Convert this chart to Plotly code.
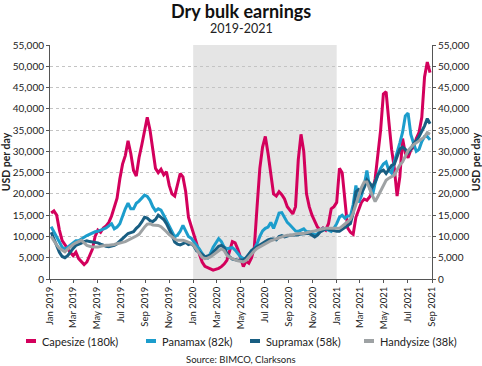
import pandas as pd
import plotly.graph_objects as go

# ---------------- data (weekly, USD per day) ----------------
start_date = "2019-01-04"
n_weeks = 139

capesize = [
    15500, 16000, 15000, 11500, 9000, 8000, 7000, 6200, 5500, 6300,
    4800, 4200, 3400, 4000, 5500, 7000, 10000, 11500, 11000, 12000,
    12500, 13300, 14800, 16800, 19000, 23500, 27000, 29000, 32500, 29500,
    25500, 24200, 28500, 31500, 35000, 38000, 35000, 31000, 26000, 25000,
    25800, 24500, 25200, 22000, 20000, 19500, 22500, 24800, 24000, 20500,
    14500, 12500, 10000, 8300, 5800, 4000, 3000, 2600, 2400, 2100,
    2300, 2500, 2900, 3500, 4400, 6500, 8800, 8500, 7000, 5000,
    2900, 4200, 3700, 5000, 7500, 17000, 26000, 31000, 33500, 29500,
    24000, 20000, 19500, 20500, 19800, 18800, 17000, 16000, 15300, 17000,
    28000, 34000, 30000, 20000, 17000, 15000, 13500, 12200, 11500, 12000,
    11500, 13000, 16500, 17000, 18000, 26000, 25000, 18000, 12000, 11000,
    10500, 14500, 16500, 18000, 18800, 18500, 19300, 20500, 23500, 29000,
    35000, 43500, 44000, 37000, 30500, 26000, 19500, 24000, 33000, 29500,
    28500, 30300, 31000, 33000, 34500, 38000, 47500, 51000, 48500,
]
panamax = [
    12300, 11000, 9800, 8700, 7500, 7000, 7500, 8000, 8500, 9000,
    9000, 9500, 9800, 10200, 10500, 10800, 11100, 11200, 11500, 11800,
    12000, 12500, 13000, 11800, 12200, 13000, 15000, 16500, 17800, 16500,
    16500, 17800, 18300, 19000, 19700, 19400, 18500, 17000, 16000, 16500,
    16200, 15000, 13800, 12500, 11200, 9900, 10300, 11200, 12600, 11300,
    10000, 9600, 8800, 7900, 7000, 6000, 5200, 4900, 6000, 7500,
    8600, 9500, 8800, 7500, 7100, 7300, 7400, 6800, 6100, 5200,
    4800, 4900, 5700, 6700, 7100, 8300, 10000, 11300, 11900, 12200,
    13300, 11900, 13600, 15500, 15600, 14300, 13300, 12700, 12000, 11300,
    11200, 11600, 11800, 11100, 11100, 10800, 10300, 10600, 11300, 11900,
    11800, 11400, 11200, 11900, 13000, 14500, 15000, 14300, 14800, 14800,
    17500, 22000, 18000, 19500, 22000, 25500, 21500, 19500, 22500, 24500,
    26000, 27000, 27500, 25500, 24900, 27500, 29500, 32000, 34500, 38300,
    39000, 34000, 31900, 30000, 30500, 32300, 33500, 33500, 32700,
]
supramax = [
    11000, 9300, 7800, 6300, 5300, 5000, 5500, 6400, 7200, 7900,
    8100, 8400, 8800, 9000, 8800, 8700, 8600, 8500, 8200, 7900,
    7700, 7600, 7700, 7900, 8300, 8900, 9400, 10000, 10700, 10900,
    11100, 11900, 12500, 13400, 14500, 14300, 13700, 13500, 14000, 15000,
    14600, 14000, 13000, 11800, 10300, 8700, 8200, 8000, 8400, 8600,
    8100, 8300, 7700, 6600, 6300, 5800, 5200, 5400, 5600, 6300,
    7000, 7700, 7900, 7400, 6000, 5200, 4700, 4500, 4400, 4400,
    4500, 5000, 5800, 6700, 7200, 7600, 8000, 8500, 8900, 9200,
    9400, 9400, 9200, 10000, 10200, 9900, 10100, 10300, 10300, 10300,
    10400, 10600, 10700, 10700, 10700, 10300, 9900, 10300, 11100, 11400,
    11800, 11700, 11500, 11300, 11200, 11200, 11700, 12100, 12500, 13000,
    15500, 20500, 21000, 20300, 21500, 23300, 22600, 21700, 22800, 24500,
    25300, 25600, 24800, 25800, 26700, 27000, 28800, 30500, 31000, 30500,
    29700, 30500, 31800, 32500, 33500, 34700, 36000, 37700, 36500,
]
handysize = [
    10000, 8900, 8000, 7200, 6700, 6400, 7000, 7600, 8100, 8500,
    8800, 9100, 8500, 7900, 7700, 7500, 7500, 7500, 7700, 7900,
    7950, 7950, 7950, 8100, 8300, 8400, 8600, 8800, 9100, 9400,
    9700, 10100, 10500, 11400, 12200, 12900, 13000, 12700, 12600, 12600,
    12300, 11800, 11100, 10400, 9800, 9400, 9100, 9100, 9100, 8900,
    8700, 8400, 7800, 6800, 5800, 5100, 4800, 4900, 5200, 5700,
    6200, 6800, 7100, 6700, 5600, 5100, 4700, 4500, 4300, 4100,
    4000, 4400, 5200, 5900, 6600, 7200, 7600, 8000, 8400, 8800,
    9000, 9200, 9500, 9700, 9900, 10100, 10300, 10300, 10300, 10600,
    10700, 10700, 10700, 10900, 11000, 11200, 11300, 11500, 11600, 11800,
    11900, 11900, 11900, 11900, 11900, 11900, 12400, 12900, 13300, 14000,
    15500, 17500, 19500, 21500, 22800, 22800, 21200, 19800, 18200, 19400,
    20800, 22000, 23200, 23700, 24000, 24400, 25600, 26800, 27500, 28800,
    30200, 30900, 31600, 32000, 32400, 33000, 33400, 34400, 34000,
]

series_names = ["Capesize (180k)", "Panamax (82k)", "Supramax (58k)", "Handysize (38k)"]
series_values = [capesize, panamax, supramax, handysize]
series_colors = ["#d3005c", "#1c9dcc", "#185e82", "#9ea2a4"]

tick_vals = ["2019-01-01", "2019-03-01", "2019-05-01", "2019-07-01", "2019-09-01",
             "2019-11-01", "2020-01-01", "2020-03-01", "2020-05-01", "2020-07-01",
             "2020-09-01", "2020-11-01", "2021-01-01", "2021-03-01", "2021-05-01",
             "2021-07-01", "2021-09-01"]
tick_text = ["Jan 2019", "Mar 2019", "May 2019", "Jul 2019", "Sep 2019", "Nov 2019",
             "Jan 2020", "Mar 2020", "May 2020", "Jul 2020", "Sep 2020", "Nov 2020",
             "Jan 2021", "Mar 2021", "May 2021", "Jul 2021", "Sep 2021"]
y_ticks = list(range(0, 55001, 5000))
shade_start, shade_end = "2020-01-01", "2021-01-01"

for v in series_values:
    assert len(v) == n_weeks, len(v)

dates = pd.date_range(start=start_date, periods=n_weeks, freq="7D")

# ---------------- layout helpers ----------------
W, H = 482, 366
ML, MR, MT, MB = 50, 50, 45, 87
PW, PH = W - ML - MR, H - MT - MB


def px_x(px):
    return (px - ML) / PW


def px_y(py):
    return (H - MB - py) / PH


FONT = "Lato"
fig = go.Figure()

for name, vals, col in zip(series_names, series_values, series_colors):
    fig.add_trace(go.Scatter(x=dates, y=vals, name=name, mode="lines",
                             line=dict(color=col, width=3), showlegend=False))

# invisible trace to carry the right-hand axis
fig.add_trace(go.Scatter(x=[dates[0]], y=[None], yaxis="y2", showlegend=False,
                         hoverinfo="skip", mode="lines"))

fig.add_vrect(x0=shade_start, x1=shade_end, fillcolor="#e5e5e5", line_width=0,
              layer="below")

axis_common = dict(
    range=[0, 55000], tickvals=y_ticks, tickformat=",d",
    showline=True, linecolor="#555555", linewidth=1,
    ticks="outside", ticklen=3, tickcolor="#555555",
    tickfont=dict(family=FONT, size=10, color="#222222"),
    zeroline=False, fixedrange=True, automargin=False,
)

fig.update_layout(
    width=W, height=H,
    margin=dict(l=ML, r=MR, t=MT, b=MB, autoexpand=False),
    paper_bgcolor="white", plot_bgcolor="white",
    font=dict(family=FONT, color="#222222"),
    xaxis=dict(
        type="date", range=["2019-01-01", "2021-09-01"],
        tickvals=tick_vals, ticktext=tick_text, tickangle=-90,
        tickfont=dict(family=FONT, size=9.5, color="#222222"),
        showline=True, linecolor="#555555", linewidth=1,
        ticks="outside", ticklen=3, tickcolor="#555555",
        showgrid=False, zeroline=False, automargin=False,
    ),
    yaxis=dict(
        **axis_common,
        showgrid=True, gridcolor="#c4c4c4", griddash="dot", gridwidth=1,
        title=dict(text="<b>USD per day</b>", font=dict(family=FONT, size=10.5, color="#222222"),
                   standoff=4),
    ),
    yaxis2=dict(
        **axis_common, overlaying="y", side="right", showgrid=False,
        title=dict(text="<b>USD per day</b>", font=dict(family=FONT, size=10.5, color="#222222"),
                   standoff=6),
    ),
    showlegend=False,
)

annotations = [
    dict(text="<b>Dry bulk earnings</b>", x=0.5, y=px_y(11), xref="paper", yref="paper",
         showarrow=False, xanchor="center", yanchor="middle",
         font=dict(family=FONT, size=18, color="#111111")),
    dict(text="2019-2021", x=0.5, y=px_y(28), xref="paper", yref="paper",
         showarrow=False, xanchor="center", yanchor="middle",
         font=dict(family=FONT, size=12.5, color="#222222")),
    dict(text="Source: BIMCO, Clarksons", x=0.5, y=px_y(359), xref="paper", yref="paper",
         showarrow=False, xanchor="center", yanchor="middle",
         font=dict(family=FONT, size=9.5, color="#222222")),
]

# manual legend (short swatches like the original)
legend_sym_px = [26, 146, 250, 364]
legend_y_px = 341
shapes = []
for name, col, sx in zip(series_names, series_colors, legend_sym_px):
    shapes.append(dict(type="line", xref="paper", yref="paper",
                       x0=px_x(sx), x1=px_x(sx + 10), y0=px_y(legend_y_px), y1=px_y(legend_y_px),
                       line=dict(color=col, width=4)))
    annotations.append(dict(text=name, x=px_x(sx + 14), y=px_y(legend_y_px), xref="paper",
                            yref="paper", showarrow=False, xanchor="left", yanchor="middle",
                            font=dict(family=FONT, size=11, color="#222222")))

fig.update_layout(annotations=annotations)
for s in shapes:
    fig.add_shape(**s)

fig.write_html("out.html", config={"displayModeBar": False},
               post_script="document.body.style.margin='0';")
